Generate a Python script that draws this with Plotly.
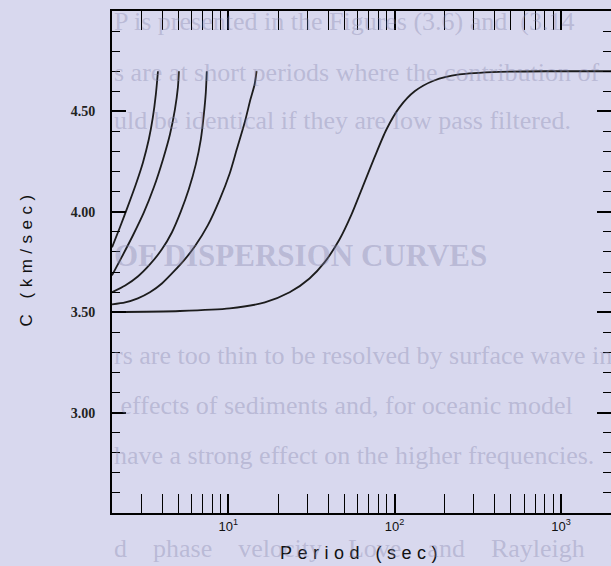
import math
import plotly.graph_objects as go

# ---- data (period in s, phase velocity in km/s) ----
mode_names = ["mode 1", "mode 2", "mode 3", "mode 4", "mode 5"]
T1 = [2.00, 2.23, 2.49, 2.78, 3.07, 3.33, 3.52, 3.67, 3.78]
C1 = [3.823, 3.922, 4.027, 4.136, 4.246, 4.361, 4.470, 4.585, 4.70]
T2 = [2.00, 2.30, 2.67, 3.11, 3.57, 4.05, 4.46, 4.78, 4.98, 5.05]
C2 = [3.683, 3.778, 3.882, 3.997, 4.122, 4.261, 4.385, 4.510, 4.620, 4.70]
T3 = [2.00, 2.40, 2.86, 3.38, 3.99, 4.58, 5.19, 5.79, 6.38, 6.84, 7.13, 7.33, 7.43]
C3 = [3.599, 3.633, 3.678, 3.738, 3.813, 3.897, 4.002, 4.112, 4.236, 4.361, 4.485, 4.595, 4.70]
T4 = [2.00, 2.40, 2.86, 3.38, 3.99, 4.71, 5.48, 6.30, 7.53, 8.89, 10.2, 11.25, 12.6, 13.6, 14.4, 14.8]
C4 = [3.539, 3.549, 3.569, 3.599, 3.643, 3.703, 3.763, 3.828, 3.932, 4.062, 4.191, 4.311, 4.450, 4.560,
      4.634, 4.70]
T5 = [2.00, 5.12, 10.2, 16.6, 23.4, 30.8, 37.9, 46.7, 55.1, 64.1, 75.7, 89.3, 107, 132, 173, 245, 426, 849, 2000]
C5 = [3.50, 3.506, 3.519, 3.549, 3.599, 3.668, 3.748, 3.863, 3.987, 4.122, 4.271, 4.410, 4.520, 4.600,
      4.654, 4.684, 4.697, 4.70, 4.70]

x_major = [10, 100, 1000]
x_major_text = ["10<sup>1</sup>", "10<sup>2</sup>", "10<sup>3</sup>"]
x_minor = [m * d for d in (1, 10, 100) for m in range(2, 10)]
y_major = [3.0, 3.5, 4.0, 4.5]
y_major_text = ["3.00", "3.50", "4.00", "4.50"]

bg_lines = [
    "P is presented in the Figures (3.6) and  (3.14",
    "s are at short periods where the contribution of",
    "uld be identical if they are low pass filtered.",
    "OF DISPERSION CURVES",
    "rs are too thin to be resolved by surface wave in",
    " effects of sediments and, for oceanic model",
    "have a strong effect on the higher frequencies.",
    "d    phase    velocity    Love    and    Rayleigh    wav",
]
bg_line_px = [22, 72, 120, 255, 355, 405, 455, 548]

# ---- layout geometry ----
W, H = 611, 566
L, R, TOP, B = 112, 0, 11, 53
ph = H - TOP - B

def py(ypx):
    return (H - B - ypx) / ph

BG = "rgb(216,216,238)"
fig = go.Figure()
series = [(T1, C1), (T2, C2), (T3, C3), (T4, C4), (T5, C5)]
for name, (t, c) in zip(mode_names, series):
    fig.add_trace(go.Scatter(x=t, y=c, mode="lines", name=name,
                             line=dict(color="#1c1c1c", width=1.8, shape="spline", smoothing=0.7),
                             showlegend=False, hoverinfo="skip"))
# helper trace so the right-hand tick axis is drawn
fig.add_trace(go.Scatter(x=[None], y=[None], yaxis="y2", showlegend=False, hoverinfo="skip"))

annotations = [
    dict(text="Period (sec)", xref="paper", yref="paper", x=0.5, y=py(553),
         xanchor="center", yanchor="middle", showarrow=False,
         font=dict(family="Liberation Sans, Arial", size=18, color="#111")),
    dict(text="C (km/sec)", xref="paper", yref="paper", x=-(L - 26) / (W - L - R), y=py(258),
         xanchor="center", yanchor="middle", showarrow=False, textangle=-90,
         font=dict(family="Liberation Sans, Arial", size=17, color="#111")),
]
for txt, ypx in zip(bg_lines, bg_line_px):
    bold = txt.isupper()
    annotations.append(dict(text=("<b>%s</b>" % txt) if bold else txt, xref="paper", yref="paper",
                            x=0.0, y=py(ypx), xanchor="left", yanchor="middle",
                            showarrow=False,
                            font=dict(family="Liberation Serif, Times New Roman", size=31 if bold else 26,
                                      color="rgba(130,130,170,0.36)")))

yminor = dict(dtick=0.1, tick0=2.5, ticks="inside", ticklen=8, tickwidth=1.3, tickcolor="black")
fig.update_layout(
    width=W, height=H, margin=dict(l=L, r=R, t=TOP, b=B),
    paper_bgcolor=BG, plot_bgcolor=BG,
    annotations=annotations,
    xaxis=dict(type="log", range=[math.log10(2), math.log10(2000)],
               showline=True, linecolor="black", linewidth=2, mirror="allticks",
               ticks="inside", tickcolor="black", showgrid=False, zeroline=False,
               tickvals=x_major, ticktext=x_major_text, ticklen=19, tickwidth=1.6,
               tickfont=dict(family="Liberation Sans, Arial", size=13, color="#111"),
               minor=dict(tickvals=x_minor, ticks="inside", ticklen=12, tickwidth=1.3, tickcolor="black")),
    yaxis=dict(range=[2.5, 5.0], tickvals=y_major, ticktext=y_major_text, ticklen=14, tickwidth=1.6,
               showline=True, linecolor="black", linewidth=2, mirror=False,
               ticks="inside", tickcolor="black", showgrid=False, zeroline=False,
               ticklabelstandoff=12,
               tickfont=dict(family="Liberation Serif, Times New Roman", size=14, color="#222", weight="bold"),
               minor=yminor),
    yaxis2=dict(range=[2.5, 5.0], overlaying="y", side="right", tickvals=y_major, ticklen=14, tickwidth=1.6,
                showline=False, ticks="inside", tickcolor="black", showgrid=False, zeroline=False,
                showticklabels=False, minor=yminor),
)

post = """
var gd = document.getElementById('{plot_id}');
function sp(){
  var a = gd.querySelectorAll('.annotation[data-index="0"] text, .annotation[data-index="1"] text');
  a.forEach(function(t){ t.style.letterSpacing = '5.5px'; });
}
sp();
gd.on('plotly_afterplot', sp);
"""
fig.write_html("out.html", post_script=post)
